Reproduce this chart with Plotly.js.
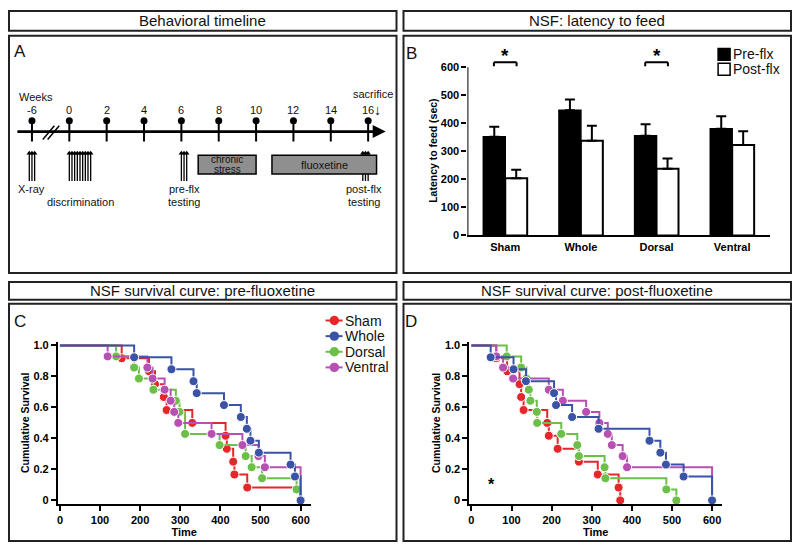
<!DOCTYPE html>
<html>
<head>
<meta charset="utf-8">
<script src="https://cdn.plot.ly/plotly-3.0.1.min.js"></script>
<style>
  body { margin: 0; background: #fff; }
  #chart { width: 800px; height: 553px; }
</style>
</head>
<body>
<div id="chart"></div>
<script>
// ---- B: latency to feed (sec), mean + SEM
const groups = ['Sham', 'Whole', 'Dorsal', 'Ventral'];
const preFlx = [352, 447, 356, 381];
const preErr = [36, 38, 41, 44];
const postFlx = [204, 338, 238, 323];
const postErr = [30, 53, 37, 49];
const sigGroups = ['Sham', 'Dorsal'];

// ---- C: survival pre-fluoxetine (event time, survival after the event)
const shamPreT = [154, 222, 237, 259, 266, 330, 413, 416, 432, 435, 467];
const shamPreS = [0.917, 0.833, 0.75, 0.667, 0.583, 0.5, 0.417, 0.333, 0.25, 0.167, 0.083];
const wholePreT = [185, 278, 333, 341, 409, 451, 466, 475, 496, 575, 586, 600];
const wholePreS = [0.923, 0.846, 0.769, 0.692, 0.615, 0.538, 0.462, 0.385, 0.308, 0.231, 0.154, 0];
const dorsalPreT = [140, 185, 197, 233, 289, 298, 312, 398, 463, 478, 504, 590];
const dorsalPreS = [0.929, 0.857, 0.786, 0.714, 0.643, 0.571, 0.429, 0.357, 0.286, 0.214, 0.143, 0.071];
const ventralPreT = [119, 218, 231, 261, 276, 285, 295, 378, 455, 495, 511];
const ventralPreS = [0.929, 0.857, 0.786, 0.714, 0.643, 0.571, 0.5, 0.429, 0.357, 0.286, 0.214];

// ---- D: survival post-fluoxetine
const shamPostT = [62, 89, 120, 124, 130, 189, 193, 215, 268, 315, 367, 371];
const shamPostS = [0.917, 0.833, 0.75, 0.667, 0.583, 0.5, 0.417, 0.333, 0.25, 0.167, 0.083, 0];
const wholePostT = [48, 105, 136, 206, 211, 251, 317, 444, 471, 485, 529, 600];
const wholePostS = [0.923, 0.846, 0.769, 0.692, 0.615, 0.538, 0.462, 0.385, 0.308, 0.231, 0.154, 0];
const dorsalPostT = [88, 124, 137, 143, 147, 163, 164, 224, 264, 268, 332, 334, 486, 511];
const dorsalPostS = [0.929, 0.857, 0.786, 0.714, 0.643, 0.571, 0.5, 0.429, 0.357, 0.286, 0.214, 0.143, 0.071, 0];
const ventralPostT = [62, 79, 104, 193, 228, 286, 319, 340, 350, 377, 388];
const ventralPostS = [0.929, 0.857, 0.786, 0.714, 0.643, 0.571, 0.5, 0.429, 0.357, 0.286, 0.214];
const testEnd = 600;

// ---- A: timeline (weeks)
const weekTicks = [-6, 0, 2, 4, 6, 8, 10, 12, 14, 16];
const xrayDays = [-1, 0, 1];          // around week -6
const discrimDays = [0, 1, 2, 3, 4, 5, 6, 7, 8];  // from week 0
const preTestDays = [0, 1, 2];        // from week 6
const postTestDays = [-2, -1, 0];     // around week 16
const stressWeeks = [6.9, 10];
const fluoxWeeks = [10.85, 16.45];

const FONT = 'Arial, "Liberation Sans", sans-serif';
const colors = { Sham: '#e5262b', Whole: '#3a53a6', Dorsal: '#6cbf48', Ventral: '#b650b3' };
const legendOrder = ['Sham', 'Whole', 'Dorsal', 'Ventral'];

const fx = p => p / 800;
const fy = p => 1 - p / 553;

// broken week axis: -6 sits one slot left of 0
function toSlot(w) {
  return w < -3 ? (w + 6) / 2 : 1 + w / 2;
}

function kmTrace(name, t, s, xa, ya) {
  const x = [0].concat(t);
  const y = [1].concat(s);
  const size = [0].concat(t.map(() => 9));
  if (s[s.length - 1] > 0) {
    x.push(testEnd); y.push(0); size.push(0);
  }
  return {
    type: 'scatter', mode: 'lines+markers', name: name,
    x: x, y: y, xaxis: xa, yaxis: ya,
    line: { shape: 'hv', color: colors[name], width: 2 },
    marker: { color: colors[name], size: size, opacity: 1 },
    showlegend: false, cliponaxis: false
  };
}

const traces = [];

// B bars
traces.push({
  type: 'bar', name: 'Pre-flx', x: groups, y: preFlx, xaxis: 'x', yaxis: 'y',
  marker: { color: '#000', line: { color: '#000', width: 1.5 } },
  error_y: { type: 'data', symmetric: false, array: preErr, arrayminus: preErr.map(() => 0),
             color: '#000', thickness: 2, width: 5 },
  showlegend: false
});
traces.push({
  type: 'bar', name: 'Post-flx', x: groups, y: postFlx, xaxis: 'x', yaxis: 'y',
  marker: { color: '#fff', line: { color: '#000', width: 2 } },
  error_y: { type: 'data', symmetric: false, array: postErr, arrayminus: postErr.map(() => 0),
             color: '#000', thickness: 2, width: 5 },
  showlegend: false
});

// C curves (whole last so it sits on top)
traces.push(kmTrace('Sham', shamPreT, shamPreS, 'x2', 'y2'));
traces.push(kmTrace('Dorsal', dorsalPreT, dorsalPreS, 'x2', 'y2'));
traces.push(kmTrace('Ventral', ventralPreT, ventralPreS, 'x2', 'y2'));
traces.push(kmTrace('Whole', wholePreT, wholePreS, 'x2', 'y2'));
// D curves
traces.push(kmTrace('Sham', shamPostT, shamPostS, 'x3', 'y3'));
traces.push(kmTrace('Dorsal', dorsalPostT, dorsalPostS, 'x3', 'y3'));
traces.push(kmTrace('Ventral', ventralPostT, ventralPostS, 'x3', 'y3'));
traces.push(kmTrace('Whole', wholePostT, wholePostS, 'x3', 'y3'));

// A timeline: pins on the week axis
const pinX = [], pinY = [];
weekTicks.forEach(w => { pinX.push(toSlot(w), toSlot(w), null); pinY.push(86, 107, null); });
traces.push({ type: 'scatter', mode: 'lines', x: pinX, y: pinY, xaxis: 'x4', yaxis: 'y4',
  line: { color: '#000', width: 2 }, showlegend: false, hoverinfo: 'skip' });
traces.push({ type: 'scatter', mode: 'markers', x: weekTicks.map(toSlot), y: weekTicks.map(() => 86),
  xaxis: 'x4', yaxis: 'y4', marker: { color: '#000', size: 7 }, showlegend: false });

// A timeline: session arrows
const sessionWeeks = []
  .concat(xrayDays.map(d => -6 + d / 7))
  .concat(discrimDays.map(d => d / 7))
  .concat(preTestDays.map(d => 6 + d / 7))
  .concat(postTestDays.map(d => 16 + d / 7));
const arX = [], arY = [];
sessionWeeks.forEach(w => { arX.push(toSlot(w), toSlot(w), null); arY.push(118, 147, null); });
traces.push({ type: 'scatter', mode: 'lines', x: arX, y: arY, xaxis: 'x4', yaxis: 'y4',
  line: { color: '#000', width: 1.3 }, showlegend: false, hoverinfo: 'skip' });
traces.push({ type: 'scatter', mode: 'markers', x: sessionWeeks.map(toSlot), y: sessionWeeks.map(() => 119),
  xaxis: 'x4', yaxis: 'y4', marker: { color: '#000', size: 5, symbol: 'triangle-up' }, showlegend: false });

const tickFont = { family: FONT, size: 11, color: '#000', weight: 'bold' };
const axTitleFont = { family: FONT, size: 11, color: '#000', weight: 'bold' };

function survX(domain, anchor) {
  return {
    domain: domain, anchor: anchor, range: [-5, 625],
    tickvals: [0, 100, 200, 300, 400, 500, 600],
    ticks: 'outside', ticklen: 5, tickwidth: 2, tickcolor: '#000',
    showline: true, linewidth: 2, linecolor: '#000',
    showgrid: false, zeroline: false, tickfont: tickFont,
    title: { text: 'Time', font: axTitleFont, standoff: 1 }, automargin: true
  };
}
function survY(anchor) {
  return {
    domain: [fy(506), fy(343)], anchor: anchor, range: [-0.02, 1.02],
    tickvals: [0, 0.2, 0.4, 0.6, 0.8, 1.0],
    ticktext: ['0', '0.2', '0.4', '0.6', '0.8', '1.0'],
    ticks: 'outside', ticklen: 5, tickwidth: 2, tickcolor: '#000',
    showline: true, linewidth: 2, linecolor: '#000',
    showgrid: false, zeroline: false, tickfont: tickFont,
    title: { text: 'Cumulative Survival', font: { family: FONT, size: 10.5, color: '#000', weight: 'bold' }, standoff: 2 },
    automargin: true
  };
}

const boxLine = { color: '#222', width: 2 };
const shapes = [];
// header and panel frames
[[8, 8, 396, 28], [403, 8, 791, 28], [8, 33, 396, 273], [403, 33, 791, 273],
 [8, 282, 396, 300], [403, 282, 791, 300], [8, 304, 396, 544], [403, 304, 791, 544]]
  .forEach(b => shapes.push({ type: 'rect', xref: 'paper', yref: 'paper',
    x0: fx(b[0]), x1: fx(b[2]), y0: fy(b[3]), y1: fy(b[1]), line: boxLine }));

// B: y axis line up to 600 and significance brackets
shapes.push({ type: 'line', xref: 'x', yref: 'y', x0: -0.5, x1: -0.5, y0: 0, y1: 600,
  line: { color: '#000', width: 2 } });
sigGroups.forEach(g => {
  const c = groups.indexOf(g);
  [[c - 0.15, 604, c - 0.15, 618], [c - 0.15, 618, c + 0.15, 618], [c + 0.15, 618, c + 0.15, 604]]
    .forEach(l => shapes.push({ type: 'line', xref: 'x', yref: 'y',
      x0: l[0], y0: l[1], x1: l[2], y1: l[3], line: { color: '#000', width: 2 } }));
});
// B legend swatches
shapes.push({ type: 'rect', xref: 'paper', yref: 'paper', x0: fx(718), x1: fx(730), y0: fy(58), y1: fy(46),
  fillcolor: '#000', line: { color: '#000', width: 1.5 } });
shapes.push({ type: 'rect', xref: 'paper', yref: 'paper', x0: fx(718), x1: fx(730), y0: fy(73), y1: fy(61),
  fillcolor: '#fff', line: { color: '#000', width: 1.5 } });

// C legend keys (line with a dot)
legendOrder.forEach((g, i) => {
  const yc = 321 + i * 15.8;
  shapes.push({ type: 'line', xref: 'paper', yref: 'paper', x0: fx(325), x1: fx(342), y0: fy(yc), y1: fy(yc),
    line: { color: colors[g], width: 2 } });
  shapes.push({ type: 'circle', xref: 'paper', yref: 'paper', x0: fx(329), x1: fx(338.5), y0: fy(yc + 4.75), y1: fy(yc - 4.75),
    fillcolor: colors[g], line: { color: colors[g], width: 0 } });
});

// A: treatment blocks and axis break
[stressWeeks, fluoxWeeks].forEach(r => shapes.push({ type: 'rect', xref: 'x4', yref: 'y4',
  x0: toSlot(r[0]), x1: toSlot(r[1]), y0: 121, y1: 140, layer: 'above',
  fillcolor: '#8f8f8f', line: { color: '#000', width: 1.5 } }));
[[0.29, 105, 0.6, 91], [0.42, 105, 0.73, 91]].forEach(l => shapes.push({ type: 'line', xref: 'x4', yref: 'y4',
  x0: l[0], y0: l[1], x1: l[2], y1: l[3], line: { color: '#000', width: 1.5 } }));

const txt = (text, x, y, size, extra) => Object.assign({
  text: text, x: x, y: y, xref: 'paper', yref: 'paper', showarrow: false,
  xanchor: 'center', yanchor: 'middle',
  font: { family: FONT, size: size, color: '#111' }
}, extra || {});
const tl = (text, w, y, size, extra) => Object.assign({
  text: text, x: w, y: y, xref: 'x4', yref: 'y4', showarrow: false,
  xanchor: 'center', yanchor: 'middle',
  font: { family: FONT, size: size, color: '#111' }
}, extra || {});

const annotations = [
  txt('Behavioral timeline', fx(202), fy(18), 15),
  txt('NSF: latency to feed', fx(597), fy(18), 15),
  txt('NSF survival curve: pre-fluoxetine', fx(202), fy(291), 15),
  txt('NSF survival curve: post-fluoxetine', fx(597), fy(291), 15),
  txt('A', fx(19), fy(49), 17),
  txt('B', fx(411), fy(51), 17),
  txt('C', fx(19), fy(322), 17),
  txt('D', fx(411), fy(322), 17),
  txt('Pre-flx', fx(731), fy(52), 14, { xanchor: 'left' }),
  txt('Post-flx', fx(731), fy(67), 14, { xanchor: 'left' }),
  txt('Latency to feed (sec)', fx(433), fy(149), 10.5,
    { textangle: -90, font: { family: FONT, size: 10.5, color: '#000', weight: 'bold' } }),
  { text: '*', x: 50, y: 0.1, xref: 'x3', yref: 'y3', showarrow: false,
    font: { family: FONT, size: 16, color: '#000', weight: 'bold' } }
];
legendOrder.forEach((g, i) => annotations.push(
  txt(g, fx(342), fy(321 + i * 15.8), 14, { xanchor: 'left' })));
sigGroups.forEach(g => annotations.push({ text: '*', x: g, y: 618, xref: 'x', yref: 'y',
  yanchor: 'bottom', yshift: -6, showarrow: false, font: { family: FONT, size: 19, color: '#000', weight: 'bold' } }));

// A labels
annotations.push(tl('Weeks', -0.41, 62, 11, { xanchor: 'left' }));
weekTicks.forEach(w => annotations.push(tl(String(w), toSlot(w), 75, 11)));
annotations.push(tl('sacrifice', 9.14, 59, 11));
annotations.push(tl('\u2193', 9.25, 75, 14, { font: { family: FONT, size: 14, color: '#000', weight: 'bold' } }));
annotations.push(tl('X-ray', toSlot(-6), 155, 11));
annotations.push(tl('discrimination', toSlot(0.6), 168, 11));
annotations.push(tl('pre-flx', toSlot(6.15), 155, 11));
annotations.push(tl('testing', toSlot(6.15), 168, 11));
annotations.push(tl('post-flx', toSlot(15.8), 155, 11));
annotations.push(tl('testing', toSlot(15.8), 168, 11));
annotations.push(tl('chronic', toSlot((stressWeeks[0] + stressWeeks[1]) / 2), 125.5, 10));
annotations.push(tl('stress', toSlot((stressWeeks[0] + stressWeeks[1]) / 2), 135.5, 10));
annotations.push(tl('fluoxetine', toSlot((fluoxWeeks[0] + fluoxWeeks[1]) / 2), 131, 11));
// main time arrow
annotations.push({ text: '', xref: 'x4', yref: 'y4', axref: 'x4', ayref: 'y4',
  x: 9.47, y: 97, ax: -0.43, ay: 97, showarrow: true,
  arrowhead: 2, arrowsize: 1, arrowwidth: 2.6, arrowcolor: '#000', standoff: 0 });

const layout = {
  width: 800, height: 553,
  margin: { l: 0, r: 0, t: 0, b: 0 },
  paper_bgcolor: '#fff', plot_bgcolor: 'rgba(0,0,0,0)',
  font: { family: FONT, color: '#000' },
  showlegend: false,
  barmode: 'group', bargap: 0.42, bargroupgap: 0,
  xaxis: {
    domain: [fx(467), fx(770)], anchor: 'y', type: 'category', range: [-0.5, 3.5],
    showline: true, linewidth: 2, linecolor: '#000', ticks: '', tickfont: tickFont,
    showgrid: false, zeroline: false
  },
  yaxis: {
    domain: [fy(235), fy(48)], anchor: 'x', range: [0, 660],
    tickvals: [0, 100, 200, 300, 400, 500, 600],
    ticks: 'outside', ticklen: 5, tickwidth: 2, tickcolor: '#000',
    showline: false, showgrid: false, zeroline: false, tickfont: tickFont
  },
  xaxis2: survX([fx(57), fx(310)], 'y2'),
  yaxis2: survY('x2'),
  xaxis3: survX([fx(469), fx(722)], 'y3'),
  yaxis3: survY('x3'),
  xaxis4: { domain: [fx(9), fx(395)], anchor: 'y4', range: [(9 - 31) / 37.4, (395 - 31) / 37.4], visible: false },
  yaxis4: { domain: [fy(273), fy(33)], anchor: 'x4', range: [240, 0], visible: false },
  shapes: shapes,
  annotations: annotations
};

Plotly.newPlot('chart', traces, layout, { displayModeBar: false, staticPlot: true });
</script>
</body>
</html>
